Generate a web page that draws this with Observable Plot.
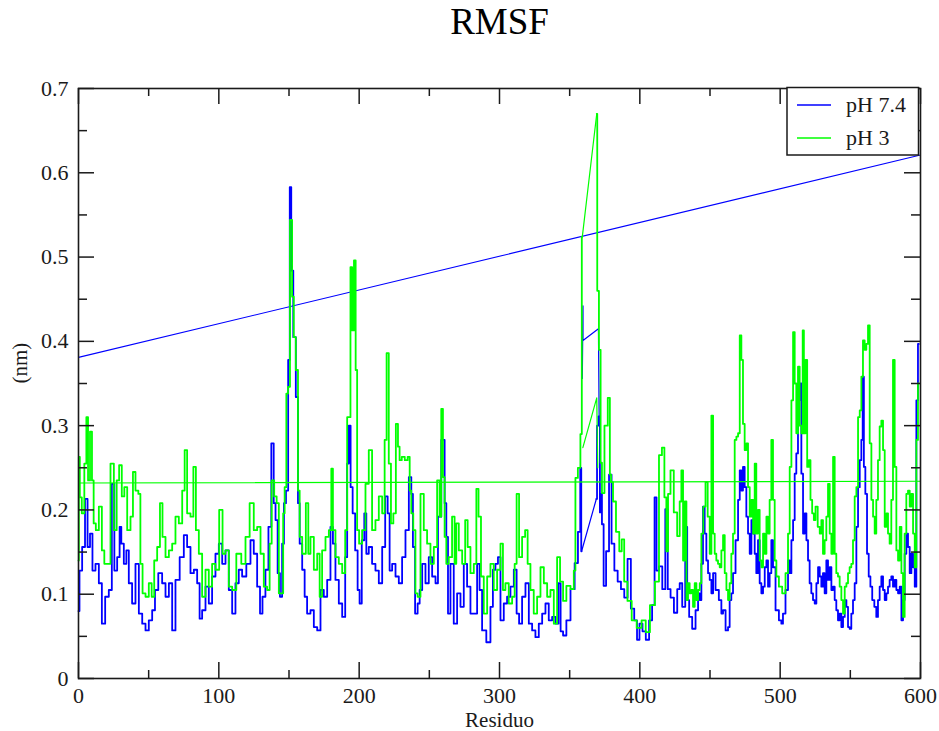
<!DOCTYPE html>
<html><head><meta charset="utf-8">
<script src="https://cdn.jsdelivr.net/npm/d3@7"></script>
<script src="https://cdn.jsdelivr.net/npm/@observablehq/plot@0.6"></script>
<style>body{margin:0;background:#fff}</style>
</head><body><div id="chart"></div>
<script>
const title = "RMSF";
const xLabel = "Residuo";
const yLabel = "(nm)";
const seriesNames = ["pH 7.4", "pH 3"];
const seriesColors = ["#0000ff", "#00ff00"];
const xMajorTicks = [0, 100, 200, 300, 400, 500, 600];
const xMinorTicks = [50, 150, 250, 350, 450, 550];
const yMajorTicks = [0, 0.1, 0.2, 0.3, 0.4, 0.5, 0.6, 0.7];
const yTickLabels = ["0", "0.1", "0.2", "0.3", "0.4", "0.5", "0.6", "0.7"];
const yMinorTicks = [0.05, 0.15, 0.25, 0.35, 0.45, 0.55, 0.65];

// [residue, RMSF nm] pH 7.4
const rmsfPH74 = [[0,0.08],[1.4,0.128],[3.8,0.156],[5.5,0.213],[7.4,0.156],[9,0.172],[10.9,0.128],[13.3,0.136],[15.7,0.113],[17.6,0.065],[20.4,0.097],[22.8,0.105],[24.7,0.231],[26.4,0.128],[28.7,0.144],[29.9,0.18],[31.1,0.16],[33.5,0.136],[34.7,0.152],[37,0.113],[39.4,0.089],[41.8,0.136],[44.2,0.077],[46.6,0.065],[48.9,0.057],[51.3,0.069],[53.7,0.081],[55.3,0.105],[58.4,0.125],[60.8,0.113],[63.2,0.097],[65.6,0.113],[67.9,0.057],[70.3,0.117],[73.9,0.144],[76.2,0.17],[78.6,0.156],[81,0.125],[83.4,0.129],[85.7,0.113],[86.9,0.071],[89.3,0.081],[91.7,0.109],[94,0.089],[96.4,0.121],[98.8,0.148],[101.2,0.16],[103.6,0.136],[105.9,0.152],[108.3,0.105],[110.7,0.077],[113,0.113],[115.4,0.129],[117.8,0.121],[121.4,0.136],[123.7,0.164],[126.1,0.148],[128.5,0.109],[130.2,0.077],[132,0.097],[134.4,0.129],[136.3,0.18],[138.5,0.279],[139.7,0.208],[141.1,0.188],[142.7,0.125],[144.4,0.097],[145.8,0.16],[147,0.208],[148.7,0.223],[150.1,0.378],[151,0.583],[152.2,0.484],[153.9,0.405],[155.8,0.334],[157,0.208],[158.2,0.16],[160.6,0.129],[161.7,0.097],[164.1,0.077],[166.5,0.081],[168.9,0.061],[171.3,0.057],[173.6,0.105],[176,0.097],[178.4,0.117],[180.7,0.18],[181.9,0.16],[184.3,0.117],[186.7,0.089],[189.1,0.073],[191,0.144],[191.9,0.255],[193.3,0.3],[194.5,0.227],[196.2,0.196],[198.1,0.152],[199.7,0.105],[200.9,0.089],[202.8,0.164],[204.5,0.196],[205.7,0.148],[208,0.156],[210.4,0.136],[212.8,0.128],[215.2,0.113],[217.6,0.156],[219.5,0.216],[221.1,0.196],[222.3,0.128],[224.7,0.136],[227.1,0.121],[229.4,0.113],[231.8,0.144],[234.2,0.176],[236.6,0.239],[237.7,0.219],[238.9,0.156],[240.8,0.077],[242.5,0.089],[243.7,0.105],[246.1,0.136],[248.4,0.113],[250.8,0.144],[253.2,0.121],[255.6,0.113],[256.7,0.192],[260.3,0.283],[261.5,0.208],[262.7,0.168],[263.9,0.077],[266.2,0.136],[268.6,0.065],[271,0.101],[273.4,0.085],[275.7,0.136],[278.1,0.109],[280.5,0.077],[282.9,0.077],[285.2,0.136],[286.4,0.105],[288.8,0.057],[292.4,0.043],[294.7,0.085],[295.9,0.129],[298.3,0.136],[299.5,0.144],[301.9,0.069],[304.2,0.089],[306.6,0.097],[309,0.109],[311.4,0.129],[313,0.077],[314.9,0.065],[317.3,0.097],[319.7,0.113],[322.1,0.065],[324.4,0.057],[326.8,0.049],[329.2,0.065],[331.6,0.077],[333.9,0.089],[336.3,0.069],[338.7,0.073],[341.1,0.065],[343,0.113],[344.1,0.056],[346.5,0.051],[348.8,0.069],[352.4,0.106],[354.7,0.137],[357.1,0.174],[358,0.25],[358.5,0.151],[369,0.213],[370,0.3],[371.2,0.311],[371.9,0.197],[372.4,0.219],[373.6,0.183],[374.8,0.11],[377.1,0.151],[379,0.242],[380.7,0.16],[383,0.128],[385.4,0.115],[387.7,0.106],[390.1,0.096],[392.4,0.142],[394.8,0.083],[397.2,0.069],[398.8,0.046],[400.7,0.065],[403.1,0.056],[405.4,0.046],[407.8,0.069],[409.7,0.087],[411.3,0.215],[412.5,0.128],[414.8,0.133],[417.2,0.106],[419.1,0.201],[420.7,0.106],[423.1,0.096],[425.5,0.078],[427.8,0.106],[429,0.113],[431.4,0.085],[433.3,0.18],[434.2,0.093],[436.1,0.073],[438.5,0.059],[440.9,0.081],[442.1,0.101],[443.3,0.093],[444.4,0.136],[445.6,0.204],[446.8,0.172],[448,0.14],[449.2,0.125],[450.4,0.117],[451.6,0.101],[452.8,0.125],[455.1,0.105],[457.5,0.093],[458.7,0.077],[459.9,0.081],[462.3,0.057],[463.4,0.061],[464.6,0.093],[465.8,0.101],[467,0.125],[469.4,0.164],[470.6,0.212],[471.8,0.247],[472.9,0.223],[474.1,0.251],[475.3,0.227],[476.5,0.192],[477.7,0.172],[478.9,0.148],[480.1,0.188],[481.3,0.172],[482.4,0.148],[483.6,0.125],[484.8,0.164],[486,0.113],[487.2,0.101],[488.4,0.109],[489.6,0.132],[490.8,0.14],[491.9,0.109],[493.1,0.125],[494.3,0.164],[495.5,0.132],[497.9,0.081],[500.3,0.069],[501.4,0.065],[502.6,0.077],[505,0.105],[506.2,0.14],[507.4,0.125],[508.6,0.164],[509.8,0.188],[510.9,0.243],[512.1,0.267],[513.3,0.33],[514.5,0.35],[515.7,0.243],[516.9,0.172],[518.1,0.196],[519.3,0.164],[520.4,0.14],[521.6,0.113],[522.8,0.101],[524,0.093],[525.2,0.089],[526.4,0.113],[527.6,0.132],[528.8,0.121],[529.9,0.109],[531.1,0.125],[532.3,0.101],[533.5,0.14],[534.7,0.117],[535.9,0.132],[537.1,0.105],[538.3,0.109],[539.4,0.093],[540.6,0.081],[541.8,0.069],[543,0.077],[544.2,0.061],[545.4,0.073],[546.6,0.093],[547.8,0.085],[548.9,0.061],[550.1,0.059],[551.3,0.077],[552.5,0.093],[553.7,0.113],[554.9,0.18],[556.1,0.227],[557.3,0.259],[558.4,0.283],[559.2,0.358],[560.1,0.251],[561.3,0.219],[562.5,0.148],[563.7,0.121],[564.9,0.109],[566.3,0.093],[567.9,0.085],[569.1,0.073],[570.3,0.093],[571.5,0.109],[572.7,0.121],[573.9,0.105],[575.1,0.093],[576.3,0.101],[577.4,0.109],[578.6,0.117],[579.8,0.121],[581,0.109],[582.2,0.117],[583.4,0.105],[584.6,0.101],[585.8,0.109],[587,0.069],[588.1,0.093],[589.3,0.148],[590.5,0.172],[591.7,0.156],[592.9,0.125],[594.1,0.148],[595.3,0.132],[596.5,0.109],[597.6,0.33],[598.8,0.397]];

// [residue, RMSF nm] pH 3
const rmsfPH3 = [[0,0.14],[0.5,0.263],[1.4,0.215],[3.3,0.196],[5,0.255],[6.2,0.31],[7.4,0.235],[9,0.293],[10.2,0.235],[11.4,0.184],[13.3,0.176],[15.7,0.204],[17.6,0.152],[19.2,0.136],[21.6,0.136],[24,0.255],[26.4,0.176],[28,0.235],[29.9,0.253],[31.8,0.216],[33.5,0.227],[35.9,0.176],[38.2,0.192],[39.4,0.245],[41.8,0.223],[43.5,0.219],[44.7,0.136],[46.6,0.101],[48.9,0.097],[51.3,0.113],[53,0.097],[54.9,0.14],[57.2,0.156],[58.9,0.208],[60.8,0.168],[63.2,0.144],[65.6,0.152],[67.9,0.16],[70.3,0.192],[72.7,0.184],[75.1,0.223],[76.2,0.271],[78.6,0.196],[81,0.192],[82.7,0.251],[84.6,0.176],[86.9,0.148],[89.3,0.097],[91.7,0.129],[94,0.109],[96.4,0.136],[98.8,0.129],[101.7,0.2],[103.6,0.148],[105.9,0.152],[108.3,0.109],[110.7,0.105],[114.2,0.148],[117.8,0.136],[120.2,0.168],[123.7,0.208],[126.1,0.176],[128.5,0.18],[130.9,0.148],[133.2,0.109],[135.6,0.105],[136.8,0.16],[138.5,0.235],[140.4,0.216],[142,0.208],[143.5,0.101],[145.4,0.101],[146.3,0.196],[147.5,0.227],[148.7,0.338],[149.9,0.346],[151.5,0.544],[152.9,0.453],[153.9,0.405],[155.8,0.366],[157,0.223],[158.2,0.168],[160.6,0.148],[163.4,0.208],[164.1,0.148],[166.5,0.168],[168.9,0.129],[171.3,0.148],[172.4,0.097],[174.8,0.152],[177.2,0.168],[179.6,0.176],[180.7,0.249],[181.9,0.176],[184.3,0.144],[186.7,0.136],[189.1,0.125],[191,0.176],[191.9,0.31],[193.3,0.31],[194.3,0.488],[195.7,0.413],[196.9,0.496],[198.1,0.366],[199,0.176],[200.9,0.16],[203.3,0.176],[205.7,0.231],[208,0.271],[210.4,0.176],[212.8,0.188],[215.2,0.216],[217.6,0.196],[218.7,0.283],[220.4,0.386],[221.8,0.255],[223.5,0.184],[225.2,0.196],[227.1,0.302],[228.2,0.275],[229.4,0.259],[231.3,0.263],[233.7,0.259],[235.4,0.263],[236.6,0.223],[237.7,0.196],[239.4,0.176],[240.8,0.101],[242.5,0.097],[244.9,0.219],[247.2,0.176],[249.6,0.16],[252,0.136],[254.4,0.156],[256.7,0.235],[257.9,0.192],[259.1,0.32],[260.3,0.239],[261.5,0.168],[262.7,0.136],[265,0.144],[267.4,0.192],[268.6,0.136],[269.8,0.184],[272.2,0.152],[274.6,0.136],[276.5,0.188],[278.1,0.156],[280.5,0.125],[282.9,0.136],[284.1,0.225],[286,0.192],[287.6,0.121],[290,0.077],[292.4,0.121],[294.7,0.136],[297.1,0.105],[299.5,0.129],[301.9,0.16],[303,0.105],[305.4,0.113],[307.8,0.089],[310.2,0.097],[311.4,0.136],[313,0.219],[314.9,0.144],[317.3,0.168],[319.2,0.176],[320.9,0.136],[323.2,0.105],[325.6,0.077],[328,0.097],[330.4,0.132],[332.8,0.113],[335.1,0.097],[337.5,0.105],[339.9,0.065],[342.2,0.144],[344.1,0.115],[346.5,0.092],[348.8,0.11],[352.4,0.106],[353.5,0.128],[354.7,0.238],[357,0.25],[358.3,0.29],[359,0.524],[369.3,0.67],[370,0.46],[371.7,0.39],[372.4,0.256],[373.6,0.22],[376,0.3],[378.3,0.333],[379,0.242],[380,0.233],[381.8,0.21],[384.2,0.174],[386.5,0.151],[387.7,0.165],[390,0.115],[392.4,0.092],[396,0.069],[399.5,0.06],[403,0.069],[405.4,0.055],[409,0.087],[412.5,0.115],[414.8,0.265],[416.7,0.274],[418.3,0.215],[419.5,0.151],[420.7,0.219],[423,0.247],[425.4,0.197],[427.8,0.169],[429,0.21],[430.2,0.247],[431.4,0.14],[432.6,0.21],[433.8,0.093],[434.9,0.113],[436.1,0.101],[437.3,0.105],[438.5,0.085],[439.7,0.113],[440.9,0.093],[442.1,0.105],[443.3,0.113],[444.4,0.172],[446.1,0.204],[447.5,0.233],[449.2,0.192],[450.4,0.148],[451.6,0.312],[452.8,0.172],[453.9,0.148],[455.1,0.14],[456.3,0.136],[457.5,0.132],[458.7,0.152],[459.9,0.17],[461.1,0.125],[462.3,0.105],[463.4,0.093],[464.6,0.113],[465.8,0.148],[467,0.172],[468.2,0.283],[469.4,0.287],[470.6,0.291],[471.8,0.407],[472.9,0.378],[474.1,0.302],[475.3,0.271],[476.5,0.279],[477.7,0.227],[478.9,0.192],[480.1,0.212],[481.3,0.172],[482.4,0.255],[483.6,0.172],[484.8,0.2],[486,0.14],[487.2,0.132],[488.4,0.172],[489.6,0.148],[490.8,0.192],[491.9,0.172],[493.1,0.212],[494.3,0.283],[495.5,0.212],[496.7,0.14],[497.9,0.121],[500.3,0.109],[502.6,0.101],[505,0.125],[506.2,0.172],[507.4,0.251],[508.6,0.33],[509.8,0.411],[510.9,0.35],[512.1,0.291],[513.3,0.37],[514.5,0.3],[515.7,0.291],[516.4,0.413],[517.4,0.291],[518.8,0.378],[519.7,0.251],[521.1,0.259],[522.1,0.212],[523.5,0.196],[524.5,0.188],[525.9,0.204],[527.6,0.18],[528.8,0.172],[529.9,0.188],[531.1,0.148],[532.3,0.164],[533.5,0.192],[534.7,0.231],[535.9,0.172],[537.1,0.148],[538.3,0.263],[539.4,0.148],[540.6,0.125],[541.8,0.121],[543,0.109],[544.2,0.093],[545.4,0.077],[546.6,0.109],[547.8,0.113],[548.9,0.125],[550.1,0.132],[551.3,0.136],[552.5,0.164],[553.7,0.216],[554.9,0.227],[556.1,0.31],[557.3,0.318],[558.4,0.358],[559.6,0.401],[560.8,0.39],[562,0.397],[563.2,0.419],[564.4,0.279],[565.6,0.212],[566.8,0.192],[567.9,0.172],[569.1,0.212],[570.3,0.259],[571.5,0.299],[572.7,0.306],[573.9,0.271],[575.1,0.18],[576.3,0.196],[577.4,0.172],[578.6,0.16],[579.8,0.212],[581,0.378],[582.2,0.251],[583.4,0.152],[584.6,0.14],[585.8,0.18],[587,0.125],[588.1,0.073],[589.3,0.172],[590.5,0.219],[591.7,0.223],[592.9,0.204],[594.1,0.219],[595.3,0.172],[596.5,0.132],[597.6,0.283],[598.8,0.35]];

// second-chain connector segments across the residue gap
const linkPH74 = [[359,0.356],[359.5,0.442],[359.5,0.401],[370.5,0.415],[371,0.31]];
const linkPH3 = [[359.4,0.274],[369.3,0.333],[370,0.25]];
// chain wrap-around lines
const wrapPH74 = [[0,0.381],[600,0.621]];
const wrapPH3 = [[0,0.232],[600,0.234]];

const W = 939, H = 731, mL = 78, mR = 19, mT = 88, mB = 53;
const fw = W - mL - mR, fh = H - mT - mB;
const ink = "#1a1a1a";
const font = "'Liberation Serif', 'Times New Roman', serif";
const X = d => d[0], Y = d => d[1];

// split series at the residue gap so the gap keeps its straight connector, rest drawn as steps
const gapAt = 360;
const before = s => s.filter(d => d[0] < gapAt);
const after = s => s.filter(d => d[0] > gapAt);
const gapLink = s => [before(s).at(-1), after(s)[0]];

const seriesMarks = (s, color) => [
  Plot.line(before(s), {x: X, y: Y, stroke: color, strokeWidth: 1.8, curve: "step"}),
  Plot.line(gapLink(s), {x: X, y: Y, stroke: color, strokeWidth: 1.2}),
  Plot.line(after(s), {x: X, y: Y, stroke: color, strokeWidth: 1.8, curve: "step"})
];

const plot = Plot.plot({
  width: W, height: H,
  marginLeft: mL, marginRight: mR, marginTop: mT, marginBottom: mB,
  style: {fontFamily: font, fontSize: "22px", color: ink, background: "#fff"},
  x: {domain: [0, 600]},
  y: {domain: [0, 0.7]},
  marks: [
    Plot.line(wrapPH74, {x: X, y: Y, stroke: seriesColors[0], strokeWidth: 1.1}),
    Plot.line(linkPH74, {x: X, y: Y, stroke: seriesColors[0], strokeWidth: 1.2}),
    ...seriesMarks(rmsfPH74, seriesColors[0]),
    Plot.line(wrapPH3, {x: X, y: Y, stroke: seriesColors[1], strokeWidth: 1.1}),
    Plot.line(linkPH3, {x: X, y: Y, stroke: seriesColors[1], strokeWidth: 1.2}),
    ...seriesMarks(rmsfPH3, seriesColors[1]),
    Plot.frame({stroke: ink, strokeWidth: 1.6}),
    Plot.tickX(xMajorTicks, {x: d => d, insetTop: fh - 16, stroke: ink, strokeWidth: 1.5}),
    Plot.tickX(xMajorTicks, {x: d => d, insetBottom: fh - 16, stroke: ink, strokeWidth: 1.5}),
    Plot.tickX(xMinorTicks, {x: d => d, insetTop: fh - 8, stroke: ink, strokeWidth: 1.5}),
    Plot.tickX(xMinorTicks, {x: d => d, insetBottom: fh - 8, stroke: ink, strokeWidth: 1.5}),
    Plot.tickY(yMajorTicks, {y: d => d, insetRight: fw - 16, stroke: ink, strokeWidth: 1.5}),
    Plot.tickY(yMajorTicks, {y: d => d, insetLeft: fw - 16, stroke: ink, strokeWidth: 1.5}),
    Plot.tickY(yMinorTicks, {y: d => d, insetRight: fw - 9, stroke: ink, strokeWidth: 1.5}),
    Plot.tickY(yMinorTicks, {y: d => d, insetLeft: fw - 9, stroke: ink, strokeWidth: 1.5}),
    Plot.axisX({ticks: xMajorTicks, tickSize: 0, tickPadding: 9, fontSize: 22, label: null, tickFormat: d => String(d)}),
    Plot.axisY({ticks: yMajorTicks, tickSize: 0, tickPadding: 10, fontSize: 22, label: null,
      tickFormat: d => yTickLabels[yMajorTicks.indexOf(d)]}),
    Plot.text([title], {text: d => d, frameAnchor: "top", dy: -66, fontSize: 37, lineAnchor: "middle", fill: "#000"}),
    Plot.text([xLabel], {text: d => d, frameAnchor: "bottom", dy: 42, fontSize: 21, lineAnchor: "middle", fill: ink}),
    Plot.text([yLabel], {text: d => d, frameAnchor: "left", dx: -58, rotate: -90, fontSize: 21, lineAnchor: "middle", fill: ink})
  ]
});

// legend box (top-right, inside plot)
const svg = d3.select(plot);
const lg = svg.append("g").attr("font-family", font).attr("font-size", 22).attr("fill", ink).attr("text-anchor", "start");
lg.append("rect").attr("x", 787).attr("y", 87.5).attr("width", 131.5).attr("height", 67.5)
  .attr("fill", "#fff").attr("stroke", ink).attr("stroke-width", 1.5);
seriesNames.forEach((name, i) => {
  const cy = 105 + i * 33;
  lg.append("line").attr("x1", 797).attr("x2", 831).attr("y1", cy).attr("y2", cy)
    .attr("stroke", seriesColors[i]).attr("stroke-width", 1.4);
  lg.append("text").attr("x", 846).attr("y", cy).attr("dy", "0.34em").attr("text-anchor", "start").text(name);
});

document.getElementById("chart").appendChild(plot);
</script>
</body></html>
